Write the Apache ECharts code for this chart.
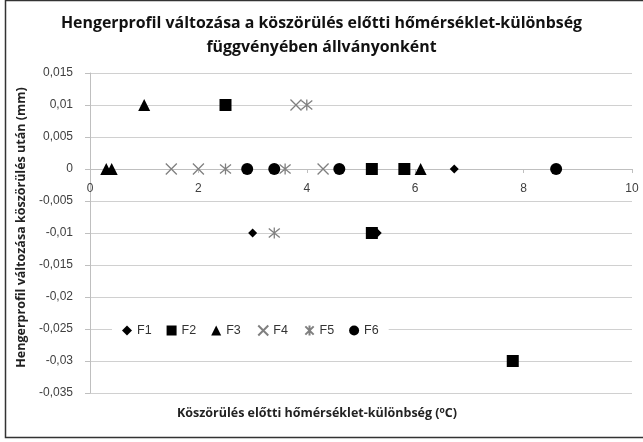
<!DOCTYPE html>
<html>
<head>
<meta charset="utf-8">
<script src="https://cdn.jsdelivr.net/npm/echarts@6/dist/echarts.min.js"></script>
<style>
  html, body { margin: 0; padding: 0; background: #fff; }
  #chart { width: 643px; height: 442px; }
</style>
</head>
<body>
<div id="chart"></div>
<script>
// x: hőmérséklet-különbség, y: hengerprofil változása
const f1 = [[6.72, 0], [3.0, -0.01], [5.3, -0.01]]
const f2 = [[2.5, 0.01], [5.2, 0], [5.8, 0], [5.2, -0.01], [7.8, -0.03]]
const f3 = [[1.0, 0.01], [0.3, 0], [0.4, 0], [6.1, 0]]
const f4 = [[3.8, 0.01], [1.5, 0], [2.0, 0], [4.3, 0]]
const f5 = [[4.0, 0.01], [2.5, 0], [3.6, 0], [3.4, -0.01]]
const f6 = [[2.9, 0], [3.4, 0], [4.6, 0], [8.6, 0]]

const seriesNames = ['F1', 'F2', 'F3', 'F4', 'F5', 'F6']
const xRange = [0, 10, 2]
const yRange = [-0.035, 0.015, 0.005]

const font = 'Liberation Sans'
const boldFont = 'Open Sans'
const crossPath = 'path://M0,0L10,10M10,0L0,10'
const starPath = 'path://M0,0L10,10M10,0L0,10M5,-1L5,11'

const gridTop = 73, gridBottom = 49, chartHeight = 442
const plotHeight = chartHeight - gridTop - gridBottom
// x axis crosses the y axis at 0 (offset from the bottom edge)
const zeroOffset = -plotHeight * (0 - yRange[0]) / (yRange[1] - yRange[0])

const filled = (name, data, symbol, size) => ({
  name, type: 'scatter', data, symbol, symbolSize: size,
  itemStyle: { color: '#000', opacity: 1 }
})
const stroked = (name, data, symbol, size) => ({
  name, type: 'scatter', data, symbol, symbolSize: size,
  itemStyle: { color: 'none', borderColor: '#808080', borderWidth: 1.3, opacity: 1 }
})

const option = {
  animation: false,
  textStyle: { fontFamily: font },
  title: {
    text: 'Hengerprofil változása a köszörülés előtti hőmérséklet-különbség\nfüggvényében állványonként',
    left: 'center',
    top: 6,
    textStyle: { fontFamily: boldFont, fontSize: 15.9, fontWeight: 'bold', color: '#111', lineHeight: 24 }
  },
  graphic: [{
    type: 'rect',
    shape: { x: 5.5, y: 0.5, width: 640, height: 437 },
    style: { fill: 'none', stroke: '#333', lineWidth: 1.5 },
    silent: true
  }],
  legend: {
    data: seriesNames,
    left: 112,
    top: 319,
    itemWidth: 10,
    itemHeight: 10,
    itemGap: 15,
    backgroundColor: '#fff',
    padding: [4, 10],
    textStyle: { fontFamily: font, fontSize: 12.5, color: '#333' }
  },
  grid: { left: 90, right: 11, top: gridTop, bottom: gridBottom, outerBoundsMode: 'none', containLabel: false },
  xAxis: {
    type: 'value',
    min: xRange[0], max: xRange[1], interval: xRange[2],
    offset: zeroOffset,
    name: 'Köszörülés előtti hőmérséklet-különbség ({sup|o}C)',
    nameLocation: 'middle',
    nameGap: 237,
    nameTextStyle: {
      fontFamily: boldFont, fontSize: 12.5, fontWeight: 'bold', color: '#222',
      padding: [0, 88, 0, 0],
      rich: { sup: { fontFamily: boldFont, fontSize: 8.5, fontWeight: 'bold', color: '#222', padding: [0, 0, 6, 0] } }
    },
    axisLine: { show: true, onZero: false, lineStyle: { color: '#bfbfbf', width: 1 } },
    axisTick: { show: true, length: 4, lineStyle: { color: '#bfbfbf' } },
    axisLabel: { fontFamily: font, fontSize: 12, color: '#404040', margin: 14 },
    splitLine: { show: false }
  },
  yAxis: {
    type: 'value',
    min: yRange[0], max: yRange[1], interval: yRange[2],
    name: 'Hengerprofil változása köszörülés után (mm)',
    nameLocation: 'middle',
    nameGap: 61,
    nameTextStyle: {
      fontFamily: boldFont, fontSize: 12.5, fontWeight: 'bold', color: '#222',
      padding: [0, 0, 0, 11]
    },
    axisLine: { show: true, onZero: false, lineStyle: { color: '#bfbfbf', width: 1 } },
    axisTick: { show: true, length: 5, lineStyle: { color: '#bfbfbf' } },
    axisLabel: {
      fontFamily: font, fontSize: 12, color: '#404040', margin: 17,
      formatter: v => String(+v.toFixed(3)).replace('.', ',')
    },
    splitLine: { show: true, lineStyle: { color: '#d0d0d0', width: 1 } }
  },
  series: [
    filled('F1', f1, 'diamond', 9),
    filled('F2', f2, 'rect', 12),
    filled('F3', f3, 'triangle', 12),
    stroked('F4', f4, crossPath, 11),
    stroked('F5', f5, starPath, 11),
    filled('F6', f6, 'circle', 12)
  ]
}

const chart = echarts.init(document.getElementById('chart'))
chart.setOption(option)
</script>
</body>
</html>
